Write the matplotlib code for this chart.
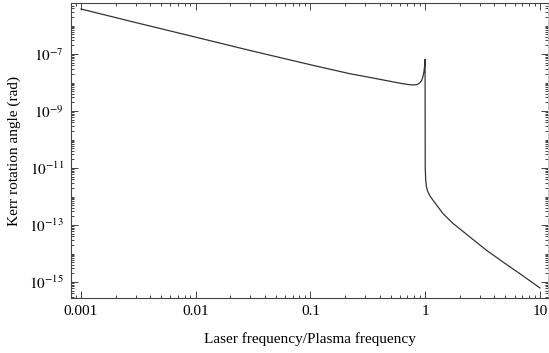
import matplotlib
matplotlib.use("Agg")
import matplotlib.pyplot as plt
from matplotlib.ticker import LogLocator, FixedLocator, FixedFormatter, NullFormatter

# values (log-log)
omega = [0.001, 0.003, 0.01, 0.03, 0.1, 0.22, 0.3, 0.43, 0.6, 0.7, 0.78, 0.85,
         0.89, 0.93, 0.953, 0.975, 0.99, 0.997, 1.0, 1.0093, 1.023, 1.047,
         1.096, 1.164, 1.259, 1.422, 1.742, 2.432, 3.404, 4.742, 6.637, 10.0]
kerr = [3.8e-6, 1.27e-6, 3.9e-7, 1.32e-7, 4.2e-8, 2.04e-8, 1.62e-8, 1.23e-8,
        9.5e-9, 8.6e-9, 8.2e-9, 8.5e-9, 9.5e-9, 1.17e-8, 1.55e-8, 2.4e-8,
        4.2e-8, 6.5e-8, 1.0e-11, 4.0e-12, 2.24e-12, 1.58e-12, 1.07e-12,
        7.6e-13, 5.0e-13, 2.57e-13, 1.15e-13, 3.9e-14, 1.32e-14, 5.1e-15,
        2.0e-15, 6.2e-16]

xticks = [0.001, 0.01, 0.1, 1, 10]
xticklabels = ["0.001", "0.01", "0.1", "1", "10"]
yticks = [1e-15, 1e-13, 1e-11, 1e-9, 1e-7]
yticklabels = [r"$10^{-15}$", r"$10^{-13}$", r"$10^{-11}$", r"$10^{-9}$", r"$10^{-7}$"]

plt.rcParams["font.family"] = ["Liberation Serif", "DejaVu Serif"]
plt.rcParams["mathtext.fontset"] = "stix"

fig = plt.figure(figsize=(5.49, 3.53), dpi=100)
ax = fig.add_axes([71 / 549, 1 - 298 / 353, 477 / 549, 295 / 353])

ax.plot(omega, kerr, color="#333333", linewidth=0.9)

ax.set_xscale("log")
ax.set_yscale("log")
ax.set_xlim(10 ** -3.087, 10 ** 1.070)
ax.set_ylim(10 ** -15.56, 10 ** -5.21)

ax.xaxis.set_major_locator(FixedLocator(xticks))
ax.xaxis.set_major_formatter(FixedFormatter(xticklabels))
ax.xaxis.set_minor_locator(LogLocator(base=10, subs=range(2, 10), numticks=20))
ax.xaxis.set_minor_formatter(NullFormatter())
ax.yaxis.set_major_locator(FixedLocator(yticks))
ax.yaxis.set_major_formatter(FixedFormatter(yticklabels))
ax.yaxis.set_minor_locator(LogLocator(base=10, subs=range(1, 10), numticks=30))
ax.yaxis.set_minor_formatter(NullFormatter())

ax.tick_params(which="both", direction="in", top=True, right=True,
               color="#444444", labelsize=11, width=0.7)
ax.tick_params(which="major", length=5, pad=5)
ax.tick_params(which="minor", length=2.5)

for side in ["left", "bottom", "top"]:
    ax.spines[side].set_color("#444444")
    ax.spines[side].set_linewidth(0.8)
ax.spines["right"].set_color("#bbbbbb")
ax.spines["right"].set_linewidth(0.6)

ax.set_xlabel("Laser frequency/Plasma frequency", fontsize=11, labelpad=10)
ax.set_ylabel("Kerr rotation angle (rad)", fontsize=11, labelpad=6)

fig.savefig("out.png", dpi=100)
